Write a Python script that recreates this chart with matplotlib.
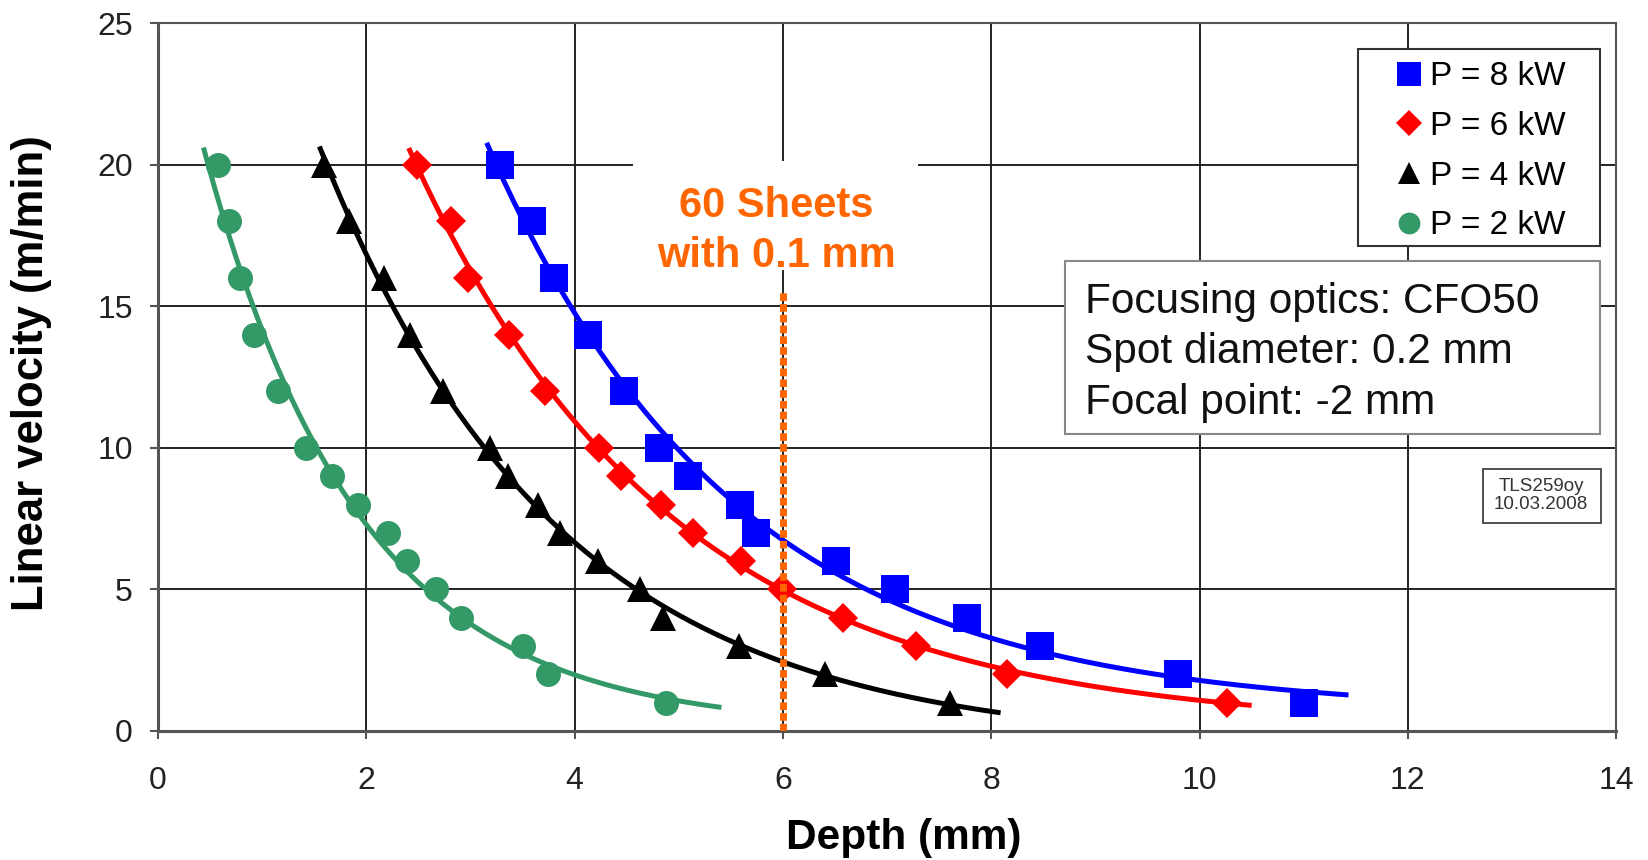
import numpy as np
import matplotlib
matplotlib.use("Agg")
import matplotlib.pyplot as plt
from matplotlib.patches import Rectangle

plt.rcParams['font.family'] = ['Liberation Sans', 'DejaVu Sans']

# velocity levels (m/min) at which depths were measured
velocity = [20, 18, 16, 14, 12, 10, 9, 8, 7, 6, 5, 4, 3, 2, 1]

# measured depths (mm) per laser power
depth_8kw = [3.28, 3.59, 3.80, 4.13, 4.47, 4.81, 5.09, 5.59, 5.74, 6.51, 7.08, 7.77, 8.47, 9.79, 11.00]
depth_6kw = [2.49, 2.81, 2.98, 3.37, 3.72, 4.23, 4.45, 4.83, 5.14, 5.60, 5.99, 6.58, 7.28, 8.15, 10.26]
depth_4kw = [1.59, 1.83, 2.17, 2.42, 2.74, 3.19, 3.36, 3.65, 3.86, 4.22, 4.63, 4.85, 5.58, 6.40, 7.60]
depth_2kw = [0.575, 0.68, 0.79, 0.92, 1.15, 1.42, 1.67, 1.92, 2.21, 2.39, 2.67, 2.91, 3.50, 3.74, 4.88]

labels = ['P = 8 kW', 'P = 6 kW', 'P = 4 kW', 'P = 2 kW']
# depth range covered by each trend line
trend_range = [(3.10, 11.43), (2.38, 10.50), (1.55, 8.09), (0.42, 5.41)]
trend_top = 20.8

series = [
    (depth_8kw, '#0000FF', 's', 19.5),
    (depth_6kw, '#FF0000', 'D', 15.5),
    (depth_4kw, '#000000', '^', 19),
    (depth_2kw, '#339966', 'o', 18),
]


def exp_trend(x, y):
    # y = a*exp(-b*x) + c, weighted least squares by scanning b and c
    w = 1.0 / np.sqrt(y)
    best = None
    for c in np.linspace(-1.0, 1.5, 51):
        for b in np.linspace(0.1, 3.0, 291):
            e = np.exp(-b * x)
            a = np.sum(w * e * (y - c)) / np.sum(w * e * e)
            r = np.sum(w * (a * e + c - y) ** 2)
            if best is None or r < best[0]:
                best = (r, a, b, c)
    return best[1:]


fig = plt.figure(figsize=(16.49, 8.6), dpi=100)
ax = fig.add_axes([0.0958, 0.150, 0.8843, 0.823])

v = np.array(velocity, dtype=float)
for (d, col, mk, ms), lab, (x0, x1) in zip(series, labels, trend_range):
    a, b, c = exp_trend(np.array(d), v)
    xx = np.linspace(x0, x1, 300)
    yy = a * np.exp(-b * xx) + c
    keep = yy <= trend_top
    ax.plot(xx[keep], yy[keep], color=col, lw=3.6, zorder=2,
            solid_capstyle='butt')
    ax.plot(d, velocity, ls='none', marker=mk, ms=ms, color=col,
            markeredgewidth=0, label=lab, zorder=3)

ax.set_xlim(0, 14)
ax.set_ylim(0, 25)
ax.set_xticks(range(0, 15, 2))
ax.set_yticks(range(0, 26, 5))
ax.grid(True, color='#222222', lw=1.4)
ax.set_axisbelow(True)
for s in ax.spines.values():
    s.set_color('#555555')
    s.set_linewidth(1.5)
ax.spines['left'].set_linewidth(2.2)
ax.spines['bottom'].set_linewidth(2.2)
ax.tick_params(axis='both', labelsize=23, labelcolor='#222222', color='#555555',
               length=6, width=1.5, direction='out')
ax.tick_params(axis='y', pad=12)
ax.tick_params(axis='x', pad=19)

# white patch behind the annotation
ax.add_patch(Rectangle((4.56, 16.3), 2.74, 3.85, facecolor='white',
                       edgecolor='none', zorder=1))
ax.text(5.935, 17.65, '60 Sheets\nwith 0.1 mm', color='#FF6600', fontsize=30,
        fontweight='bold', ha='center', va='center', linespacing=1.33, zorder=6)
ax.plot([6, 6], [0, 15.5], color='#FF6600', lw=5,
        ls=(0, (1.1, 0.45)), zorder=5)

# optics info box
ax.add_patch(Rectangle((8.71, 10.48), 5.13, 6.12, facecolor='white',
                       edgecolor='#888888', lw=1.5, zorder=6))
ax.text(8.9, 13.38, 'Focusing optics: CFO50\nSpot diameter: 0.2 mm\nFocal point: -2 mm',
        fontsize=30.5, color='#111111', ha='left', va='center', linespacing=1.34,
        zorder=7)

ax.add_patch(Rectangle((12.72, 7.36), 1.13, 1.89, facecolor='white',
                       edgecolor='#333333', lw=1.2, zorder=6))
ax.text(13.28, 8.32, 'TLS259oy\n10.03.2008', fontsize=13.5, color='#333333',
        ha='center', va='center', zorder=7, linespacing=1.1)

# legend frame drawn separately so the padding matches
ax.add_patch(Rectangle((0.823, 0.685), 0.166, 0.278, transform=ax.transAxes,
                       facecolor='white', edgecolor='#333333', lw=1.5, zorder=7))
leg = ax.legend(loc='upper left', bbox_to_anchor=(0.849, 0.946), fontsize=24,
                frameon=False, handlelength=0.8, handletextpad=0.23,
                labelspacing=0.56, borderpad=0, markerscale=0.87, borderaxespad=0)
leg.set_zorder(8)

fig.text(0.548, 0.026, 'Depth (mm)', fontsize=30.5, fontweight='bold',
         ha='center', va='center')
fig.text(0.019, 0.566, 'Linear velocity (m/min)', fontsize=31.4, fontweight='bold',
         ha='center', va='center', rotation=90)

fig.savefig('out.png', dpi=100, facecolor='white')
